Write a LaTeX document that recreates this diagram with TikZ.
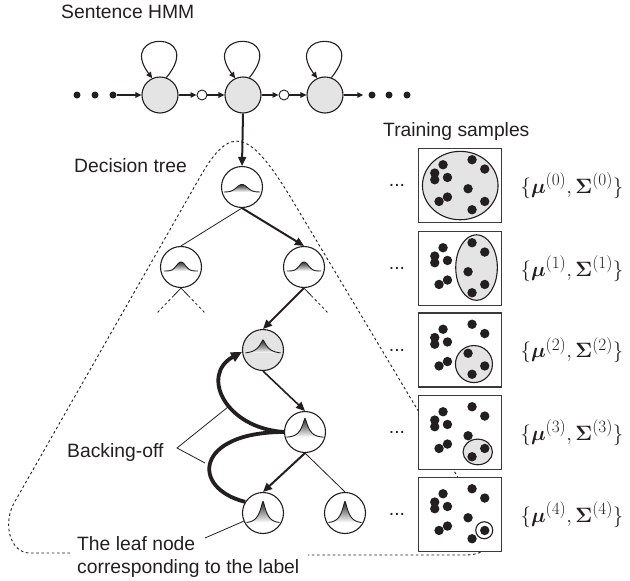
\documentclass[tikz,border=0pt]{standalone}
\usepackage[no-math]{fontspec}
\setmainfont{Liberation Sans}
\usepackage{amsmath,bm}
\usetikzlibrary{arrows.meta,calc}

\definecolor{ink}{HTML}{231F20}
\definecolor{shadegray}{HTML}{E4E4E4}
\definecolor{boxline}{HTML}{3A3A3A}

% broad bell-shaped density drawn inside a tree node
\newcommand\gaussglyph[5]{%
  \begin{scope}[shift={(#1.center)}]
    \shade[top color=black!80, bottom color=white]
      plot[domain=-#2:#2, samples=60] (\x,{#3-#4*exp(-((\x/#5)^2))}) -- cycle;
    \draw[line width=0.9pt, ink]
      plot[domain=-#2:#2, samples=60] (\x,{#3-#4*exp(-((\x/#5)^2))});
  \end{scope}}
% sharply peaked density
\newcommand\peakglyph[5]{%
  \begin{scope}[shift={(#1.center)}]
    \shade[top color=black!85, bottom color=white]
      plot[domain=-#2:#2, samples=101] (\x,{#3-#4*exp(-((sqrt(\x*\x+0.4)-0.632)/#5))}) -- cycle;
    \draw[line width=0.9pt, ink]
      plot[domain=-#2:#2, samples=101] (\x,{#3-#4*exp(-((sqrt(\x*\x+0.4)-0.632)/#5))});
  \end{scope}}

\begin{document}
\begin{tikzpicture}[x=1pt,y=-1pt,
  txt/.style={font=\fontsize{19.3}{23}\selectfont, text=ink, inner sep=0pt},
  mathlbl/.style={font=\fontsize{22.7}{27}\selectfont, text=ink, inner sep=0pt},
  hmmstate/.style={circle, draw=ink, line width=1.1pt, fill=shadegray, minimum size=36pt, inner sep=0pt},
  hmmjoin/.style={circle, draw=ink, line width=0.9pt, fill=white, minimum size=10pt, inner sep=0pt},
  hmmdot/.style={circle, fill=ink, minimum size=7pt, inner sep=0pt},
  hmmarr/.style={line width=1.1pt, draw=ink, -{Triangle[length=6pt,width=5.5pt]}},
  treenode/.style={circle, draw=ink, line width=1.1pt, fill=white, minimum size=41pt, inner sep=0pt},
  branch/.style={line width=0.8pt, draw=ink},
  stubdash/.style={dash pattern=on 2.6pt off 2.6pt},
  pathstep/.style={line width=2pt, draw=ink, -{Triangle[length=9pt,width=8pt]}},
  backoff/.style={line width=3.8pt, draw=ink, -{Triangle[length=11pt,width=10pt]}},
  outline/.style={line width=0.9pt, draw=ink, dash pattern=on 2.6pt off 2.6pt},
  samplebox/.style={rectangle, draw=boxline, line width=1.5pt, fill=white, minimum width=83pt, minimum height=74pt, inner sep=0pt},
  cluster/.style={draw=ink, line width=1.1pt, fill=shadegray},
  sample/.style={fill=ink}
]
\useasboundingbox (0,0) rectangle (630,581);

% ---------- dashed region around the decision tree ----------
\draw[outline] (70,553) -- (30,553) .. controls (10,553) and (2.2,523.7) .. (14.6,502)
  -- (200,177) .. controls (230.7,123.2) and (249.5,128.4) .. (294,203)
  -- (484,521) .. controls (496,540) and (490,555) .. (465,555) -- (308,555);

% ---------- sentence HMM ----------
\node[txt, anchor=base west] (hmmtitle) at (61,18) {Sentence HMM};
\node[hmmstate] (c1) at (160,95) {};
\node[hmmstate] (c2) at (243,95) {};
\node[hmmstate] (c3) at (325,95) {};
\node[hmmjoin] (j1) at (202,95) {};
\node[hmmjoin] (j2) at (284,95) {};
\node[hmmdot] (d1) at (77,95) {};
\node[hmmdot] (d2) at (95,95) {};
\node[hmmdot] (d3) at (113,95) {};
\node[hmmdot] (e1) at (372,95) {};
\node[hmmdot] (e2) at (389,95) {};
\node[hmmdot] (e3) at (407,95) {};
\draw[hmmarr] (d3) -- (c1);
\draw[hmmarr] (c1) -- (j1);
\draw[hmmarr] (j1) -- (c2);
\draw[hmmarr] (c2) -- (j2);
\draw[hmmarr] (j2) -- (c3);
\draw[hmmarr, shorten >=5pt] (c3) -- (e1);
\foreach \c in {c1,c2,c3}
  \draw[hmmarr] (\c.70) .. controls +(40,-48) and +(-36,-48) .. (\c.115);

% ---------- decision tree ----------
\node[txt, anchor=base west] (treetitle) at (74,172) {Decision tree};
\node[treenode] (root) at (242,187) {};
\node[treenode] (l2a) at (181,267) {};
\node[treenode] (l2b) at (304,267) {};
\node[treenode, fill=shadegray] (n3) at (263,350) {};
\node[treenode] (n4) at (305,432) {};
\node[treenode] (n5a) at (263,513) {};
\node[treenode] (n5b) at (345,513) {};

\gaussglyph{root}{18}{5}{7.5}{7.5}
\gaussglyph{l2a}{17}{4}{9}{6.3}
\gaussglyph{l2b}{17}{4}{9}{6.3}
\peakglyph{n3}{17.5}{3.5}{13.5}{5.5}
\peakglyph{n4}{18.5}{5.5}{19}{4.5}
\peakglyph{n5a}{16.5}{10}{21.5}{4.3}
\peakglyph{n5b}{16.5}{10}{21.5}{4.3}

\draw[pathstep] (c2.south) -- (root.north);
\draw[branch] (root.south) -- (l2a.north);
\draw[pathstep] (root.south) -- (l2b.north);
\draw[pathstep] (l2b.south) -- (n3.north);
\draw[pathstep, line width=1.6pt] (n3.south) -- (n4.north);
\draw[pathstep] (n4.south) -- (n5a.north);
\draw[branch] (n4.south) -- (n5b.north);

% branches that continue below the second level
\coordinate (l2aL) at (157,313);
\coordinate (l2aR) at (205,313);
\coordinate (l2bR) at (328,313);
\foreach \s/\e in {l2a/l2aL, l2a/l2aR, l2b/l2bR} {
  \draw[branch] (\s.south) -- ($(\s.south)!0.3!(\e)$);
  \draw[branch, stubdash] ($(\s.south)!0.3!(\e)$) -- (\e);
}

% backing-off from the leaf towards the root
\draw[backoff] (n5a.148) .. controls (190,488) and (195,432) .. (n4.180)
  .. controls (225,428) and (200,375) .. (n3.185);

\node[txt, anchor=base west] (bolabel) at (67,457) {Backing-off};
\coordinate (bov) at (177,448);
\coordinate (bo1) at (228,407);
\coordinate (bo2) at (205,463);
\draw[branch] (bo1) -- (bov) -- (bo2);

\node[txt, anchor=base west] (leaf1) at (77,550) {The leaf node};
\node[txt, anchor=base west] (leaf2) at (77,573) {corresponding to the label};
\coordinate (leafend) at (205,538);
\draw[branch] (leafend) -- (n5a.203);

% ---------- training samples ----------
\node[txt, anchor=base west] (samptitle) at (383,136) {Training samples};
\foreach \i/\y in {0/185.5, 1/268.5, 2/350, 3/432.5, 4/514.5} {
  \node[samplebox] (b\i) at (460,\y) {};
  \node[txt] (dots\i) at (397,\y) {...};
  \node[mathlbl] (m\i) at (572,\y) {$\{\bm{\mu}^{(\i)},\bm{\Sigma}^{(\i)}\}$};
}

% clusters selected at each depth
\begin{scope}[shift={(b0.north west)}]
  \draw[cluster] (42.5,37.8) ellipse[x radius=37.8, y radius=34.2];
\end{scope}
\begin{scope}[shift={(b1.north west)}]
  \draw[cluster] (58.8,36.8) ellipse[x radius=20.8, y radius=32.8];
\end{scope}
\begin{scope}[shift={(b2.north west)}]
  \draw[cluster] (56.2,51.8) circle[radius=18.5];
\end{scope}
\begin{scope}[shift={(b3.north west)}]
  \draw[cluster] (60,57.2) ellipse[x radius=14.7, y radius=12.8];
\end{scope}
\begin{scope}[shift={(b4.north west)}]
  \draw[cluster, fill=white] (66.5,53.5) circle[radius=8.5];
\end{scope}

% the same sample points in every box
\foreach \i in {0,...,4} {
  \begin{scope}[shift={(b\i.north west)}]
    \foreach \px/\py in {25.3/17, 17/25.3, 17/32, 29.7/29.7, 29.7/49.3, 21.3/53.7,
                         54.3/12, 67/21.3, 50.3/41, 67/53.7, 54.3/62}
      \fill[sample] (\px,\py) circle[radius=4.7];
  \end{scope}
}
\end{tikzpicture}
\end{document}
